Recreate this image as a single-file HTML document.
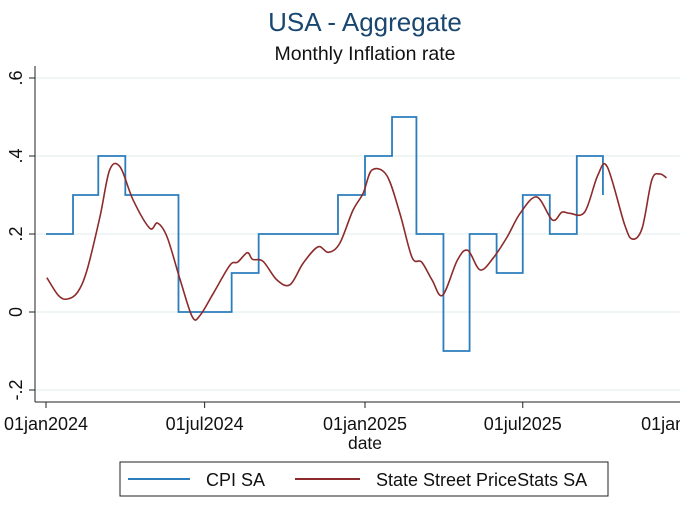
<!DOCTYPE html>
<html><head><meta charset="utf-8"><style>
body{margin:0;background:#fff;}
svg{display:block;font-family:"Liberation Sans",Arial,sans-serif;}
</style></head><body>
<svg id="chart" width="680" height="506">
<text x="365" y="31" text-anchor="middle" font-size="26" fill="#1a476f">USA - Aggregate</text>
<text x="365" y="60" text-anchor="middle" font-size="19.5" fill="#111">Monthly Inflation rate</text>
<g id="grid"></g>
<g id="yaxis"></g>
<g id="xaxis"></g>
<g id="series"></g>
<text x="365" y="449" text-anchor="middle" font-size="17.5" fill="#111">date</text>
<g>
<rect x="120" y="462" width="488" height="34" fill="#fff" stroke="#222" stroke-width="1"/>
<g>
<line x1="128" y1="479" x2="190" y2="479" stroke="#2b7dbc" stroke-width="2"/>
<text x="206" y="486" font-size="18" fill="#111">CPI SA</text></g>
<g>
<line x1="295" y1="479" x2="360" y2="479" stroke="#8c2b2b" stroke-width="2"/>
<text x="376" y="486" font-size="18" fill="#111">State Street PriceStats SA</text></g>
</g>
</svg>
<script>
const yTicks=[-0.2,0,0.2,0.4,0.6];
const yTickLabels=["-.2","0",".2",".4",".6"];
const xTickDays=[0,182,366,547,731];
const xTickLabels=["01jan2024","01jul2024","01jan2025","01jul2025","01jan2026"];
const cpiDays=[0,31,60,91,121,152,182,213,244,274,305,335,366,397,425,456,486,517,547,578,609,639];
const cpiValues=[0.2,0.3,0.4,0.3,0.3,0.0,0.0,0.1,0.2,0.2,0.2,0.3,0.4,0.5,0.2,-0.1,0.2,0.1,0.3,0.2,0.4,0.3];
const psDays=[1,14,24,36,47,62,73,85,100,119,128,139,154,168,177,192,211,220,231,237,249,265,280,295,312,324,337,352,364,374,391,406,420,431,443,455,472,484,498,513,529,544,563,581,592,601,618,633,644,664,673,684,695,704,712];
const psValues=[0.088,0.043,0.033,0.05,0.107,0.245,0.364,0.372,0.287,0.215,0.228,0.192,0.082,-0.013,-0.008,0.048,0.12,0.128,0.152,0.135,0.13,0.082,0.07,0.125,0.167,0.153,0.176,0.26,0.305,0.364,0.35,0.253,0.14,0.128,0.082,0.043,0.133,0.158,0.108,0.138,0.192,0.253,0.295,0.236,0.256,0.253,0.256,0.35,0.372,0.223,0.187,0.215,0.338,0.354,0.344];

const X=d=>46+d*(319/366);
const Y=v=>312-v*390;
const NS="http://www.w3.org/2000/svg";
function mk(tag,attrs,parent){const e=document.createElementNS(NS,tag);for(const k in attrs)e.setAttribute(k,attrs[k]);parent.appendChild(e);return e;}
const grid=document.getElementById('grid'),ya=document.getElementById('yaxis'),xa=document.getElementById('xaxis'),ser=document.getElementById('series');
yTicks.forEach((t,i)=>{
  const g=mk('line',{x1:35,x2:680,y1:Y(t),y2:Y(t),stroke:'#e6eff1','stroke-width':1.2},grid);
  
  
  mk('line',{x1:29,x2:35,y1:Y(t),y2:Y(t),stroke:'#222','stroke-width':1},ya);
  const tx=mk('text',{x:0,y:0,'font-size':18,fill:'#111','text-anchor':'middle',transform:`translate(22,${Y(t)}) rotate(-90)`},ya);
  tx.textContent=yTickLabels[i];
  
  
});
mk('line',{x1:35,x2:35,y1:66,y2:402,stroke:'#222','stroke-width':1},ya);
mk('line',{x1:35,x2:680,y1:402,y2:402,stroke:'#222','stroke-width':1},xa);
xTickDays.forEach((d,i)=>{
  mk('line',{x1:X(d),x2:X(d),y1:402,y2:408,stroke:'#222','stroke-width':1},xa);
  const tx=mk('text',{x:X(d),y:430,'font-size':18,fill:'#111','text-anchor':'middle'},xa);
  tx.textContent=xTickLabels[i];
  
  
});
let d='M'+X(cpiDays[0])+','+Y(cpiValues[0]);
for(let i=1;i<cpiDays.length;i++){d+=' H'+X(cpiDays[i])+' V'+Y(cpiValues[i]);}
const cpi=mk('path',{d:d,fill:'none',stroke:'#2b7dbc','stroke-width':1.8},ser);


const pts=psDays.map((dd,i)=>[X(dd),Y(psValues[i])]);
let p='M'+pts[0][0]+','+pts[0][1];
for(let i=0;i<pts.length-1;i++){
  const p0=pts[Math.max(0,i-1)],p1=pts[i],p2=pts[i+1],p3=pts[Math.min(pts.length-1,i+2)];
  const c1=[p1[0]+(p2[0]-p0[0])/6,p1[1]+(p2[1]-p0[1])/6],c2=[p2[0]-(p3[0]-p1[0])/6,p2[1]-(p3[1]-p1[1])/6];
  p+=` C${c1[0]},${c1[1]} ${c2[0]},${c2[1]} ${p2[0]},${p2[1]}`;
}
const ps=mk('path',{d:p,fill:'none',stroke:'#8c2b2b','stroke-width':1.6},ser);


</script>
</body></html>
